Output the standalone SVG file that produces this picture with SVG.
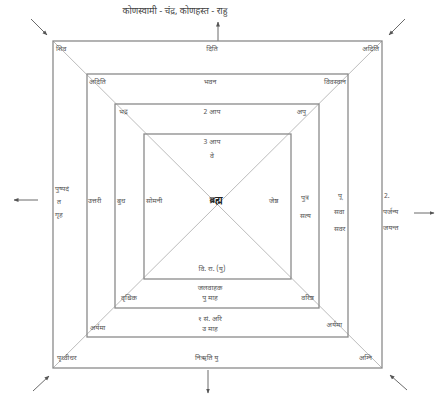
<svg xmlns="http://www.w3.org/2000/svg" width="435" height="399" viewBox="0 0 435 399">
<defs>
<style>
.sq{fill:none;stroke:#8a8a8a;stroke-width:1.3}
.dg{stroke:#b4b4b4;stroke-width:0.9}
.ar{stroke:#6a6a6a;stroke-width:1;fill:none}
text{font-family:"Noto Sans Devanagari","Lohit Devanagari","FreeSans","Noto Sans",sans-serif;font-size:7px;fill:#555}
.t{font-size:9px;fill:#444}
.c{text-anchor:middle}
.e{text-anchor:end}
.b{font-weight:bold;font-size:9px;fill:#222}
</style>
<marker id="ah" viewBox="0 0 10 10" refX="9" refY="5" markerWidth="5" markerHeight="5" orient="auto"><path d="M0,1 L10,5 L0,9 z" fill="#555"/></marker>
</defs>
<rect width="435" height="399" fill="#fff"/>
<g id="title"><text class="t c" x="175" y="14">कोणस्वामी - चंद्र,  कोणहस्त - राहु</text></g>
<g id="connectors">
<line class="ar" x1="218" y1="41" x2="218" y2="22" marker-end="url(#ah)"/>
<line class="ar" x1="31" y1="19" x2="47" y2="35" marker-end="url(#ah)"/>
<line class="ar" x1="405" y1="19" x2="389" y2="35" marker-end="url(#ah)"/>
<line class="ar" x1="33" y1="391" x2="49" y2="376" marker-end="url(#ah)"/>
<line class="ar" x1="407" y1="390" x2="390" y2="375" marker-end="url(#ah)"/>
<line class="ar" x1="38" y1="200" x2="14" y2="200" marker-end="url(#ah)"/>
<line class="ar" x1="414" y1="213" x2="434" y2="213" marker-end="url(#ah)"/>
<line class="ar" x1="208" y1="370" x2="208" y2="393" marker-end="url(#ah)"/>
</g>
<g id="diagonals">
<line class="dg" x1="53" y1="41" x2="382" y2="368"/>
<line class="dg" x1="382" y1="41" x2="53" y2="368"/>
</g>
<g id="squares">
<rect id="sq1" class="sq" x="53" y="41" width="329" height="327"/>
<rect id="sq2" class="sq" x="87" y="74" width="261" height="263"/>
<rect id="sq3" class="sq" x="115" y="104" width="204" height="204"/>
<rect id="sq4" class="sq" x="144" y="134" width="147" height="145"/>
</g>
<g id="ring1">
<text x="56" y="51">शिव</text>
<text class="c" x="212" y="51">दिति</text>
<text class="e" x="379" y="51">अदिति</text>
<text x="55" y="191">पुष्पदं</text>
<text x="57" y="204">त</text>
<text x="55" y="217">गृह</text>
<text x="384" y="198">2.</text>
<text x="383" y="214">पर्जन्य</text>
<text x="383" y="230">जयन्त</text>
<text x="57" y="360">पृथ्वीधर</text>
<text x="195" y="360">निऋति यु</text>
<text class="e" x="372" y="360">अग्नि</text>
</g>
<g id="ring2">
<text x="89" y="84">अदिति</text>
<text class="c" x="210" y="84">भवन</text>
<text class="e" x="346" y="84">विवस्वान</text>
<text x="88" y="203">उत्तरी</text>
<text x="338" y="198">पू</text>
<text x="334" y="214">सवा</text>
<text x="334" y="231">सवर</text>
<text x="90" y="330">अर्यमा</text>
<text class="c" x="210" y="321">१ सं. अरि</text>
<text class="c" x="210" y="331">उ माह</text>
<text class="e" x="342" y="327">अर्यमा</text>
</g>
<g id="ring3">
<text x="119" y="114">भद्र</text>
<text class="c" x="212" y="114">2 आप</text>
<text class="e" x="306" y="114">अपु</text>
<text x="117" y="203">बुध</text>
<text x="301" y="200">पुत्र</text>
<text x="300" y="218">सत्य</text>
<text x="121" y="300">वृश्चिक</text>
<text class="c" x="210" y="290">जलवाहक</text>
<text class="c" x="210" y="300">पु माह</text>
<text class="e" x="314" y="300">वरिष्ठ</text>
</g>
<g id="inner">
<text class="c" x="212" y="144">3 आप</text>
<text class="c" x="212" y="158">वे</text>
<text x="146" y="203">सोमनी</text>
<text class="b c" x="216" y="203">ब्रह्म</text>
<text x="269" y="203">जेष्ठ</text>
<text class="c" x="212" y="271">वि. रा. (यु)</text>
</g>
</svg>
